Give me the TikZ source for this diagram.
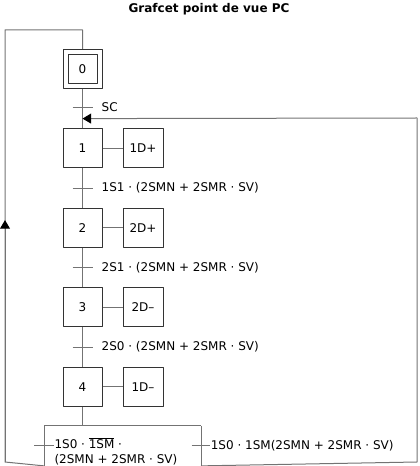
\documentclass[tikz,border=0pt]{standalone}
\usepackage{fontspec}
\setmainfont{DejaVu Sans}
\usetikzlibrary{positioning,calc,arrows.meta}
\tikzset{
  etape/.style={draw=black!80, minimum size=29.25pt, inner sep=0pt},
  action/.style={draw=black!80, minimum width=30pt, minimum height=29.25pt, inner sep=0pt},
  liaison/.style={draw=black!55},
  recept/.style={anchor=west, inner sep=0pt},
}
\begin{document}
\begin{tikzpicture}[x=0.75pt, y=-0.75pt, line width=0.75pt, line join=round, >={Triangle[length=6.5pt,width=7.5pt,color=black]},
    font=\fontsize{9}{11}\selectfont, node distance=29.6pt]
  \useasboundingbox (0,0) rectangle (419,466);
  \node[font=\fontsize{9}{11}\selectfont\bfseries] (titre) at (209,9) {Grafcet point de vue PC};
  % etapes
  \node[etape] (e0) at (82.5,69) {0};
  \node[draw=black!80, minimum size=21.75pt, inner sep=0pt] (e0i) at (e0) {};
  \node[etape, below=of e0] (e1) {1};
  \node[etape, below=of e1] (e2) {2};
  \node[etape, below=of e2] (e3) {3};
  \node[etape, below=of e3] (e4) {4};
  % actions
  \node[action, right=15pt of e1] (a1) {1D+};
  \node[action, right=15pt of e2] (a2) {2D+};
  \node[action, right=15pt of e3] (a3) {2D--};
  \node[action, right=15pt of e4] (a4) {1D--};
  \foreach \i in {1,...,4} \draw[liaison] (e\i) -- (a\i);
  % liaisons et transitions
  \draw[liaison] (e0) -- (e1) coordinate[pos=0.47] (t0) coordinate[pos=0.75] (entree);
  \draw[liaison] (e1) -- (e2) coordinate[pos=0.5] (t1);
  \draw[liaison] (e2) -- (e3) coordinate[pos=0.5] (t2);
  \draw[liaison] (e3) -- (e4) coordinate[pos=0.5] (t3);
  \foreach \t in {t0,t1,t2,t3}
    \draw[liaison] ([xshift=-7.5pt]\t) -- ([xshift=7.5pt]\t);
  \node[recept] (r0) at ([xshift=14pt]t0) {SC};
  \node[recept] (r1) at ([xshift=14pt]t1) {1S1 · (2SMN + 2SMR · SV)};
  \node[recept] (r2) at ([xshift=14pt]t2) {2S1 · (2SMN + 2SMR · SV)};
  \node[recept] (r3) at ([xshift=14pt]t3) {2S0 · (2SMN + 2SMR · SV)};
  % divergence en OU
  \coordinate (div) at ($(e4.south)+(0,19)$);
  \coordinate (bg) at ($(div)+(-38.5,0)$);
  \coordinate (bd) at ($(div)+(118.5,0)$);
  \coordinate (tg) at ($(bg)+(0,20)$);
  \coordinate (td) at ($(bd)+(0,20)$);
  \coordinate (fg) at ($(bg)+(0,40)$);
  \coordinate (fd) at ($(bd)+(0,40)$);
  \draw[liaison] (e4) -- (div);
  \draw[liaison] (bg) -- (bd);
  \draw[liaison] (bg) -- (fg);
  \draw[liaison] (bd) -- (fd);
  \draw[liaison] ([xshift=-7.5pt]tg) -- ([xshift=7.5pt]tg);
  \draw[liaison] ([xshift=-7pt]td) -- ([xshift=7pt]td);
  \node[recept, anchor=north west, align=left] (rg) at ($([xshift=7.5pt]tg)+(0,-9)$)
    {1S0 · $\overline{\mbox{1SM}}$ ·\\(2SMN + 2SMR · SV)};
  \node[recept] (rd) at ([xshift=7pt]td) {1S0 · 1SM(2SMN + 2SMR · SV)};
  % bouclages
  \coordinate (coinBG) at (5,462);
  \coordinate (coinHG) at (5,30);
  \coordinate (coinBD) at (417,462);
  \coordinate (coinHD) at (417,118);
  \draw[liaison] (fg) -- (coinBG) -- (coinHG) -| (e0.north);
  \draw[liaison, ->] (coinBG) -- ($(coinBG)!0.56!(coinHG)$);
  \draw[liaison] (fd) -- (coinBD) -- (coinHD);
  \draw[liaison, ->] (coinHD) -- (entree);
\end{tikzpicture}
\end{document}
